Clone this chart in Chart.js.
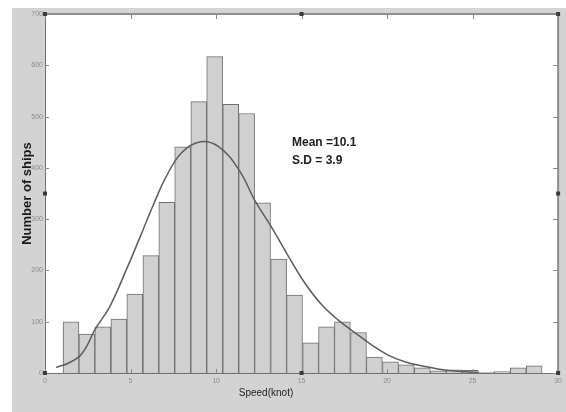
<!DOCTYPE html>
<html>
<head>
<meta charset="utf-8">
<title>Speed distribution of ships</title>
<script src="https://cdn.jsdelivr.net/npm/chart.js@4.4.1/dist/chart.umd.min.js"></script>
<style>
html,body{margin:0;padding:0;background:#fff;}
canvas{display:block;}
</style>
</head>
<body>
<canvas id="speedChart" width="566" height="412"></canvas>
<script>
// ===============================
// Data
// ===============================

// histogram bins (centre speed in knots) and ship counts
const binCenters = [1.52, 2.45, 3.38, 4.32, 5.25, 6.19, 7.12, 8.05, 8.99, 9.92,
                    10.86, 11.79, 12.72, 13.66, 14.59, 15.53, 16.46, 17.39, 18.33, 19.26,
                    20.20, 21.13, 22.06, 23.00, 23.93, 24.87, 25.80, 26.73, 27.67, 28.60];
const shipCounts = [100, 76, 90, 105, 154, 229, 333, 441, 529, 617,
                    524, 506, 332, 222, 152, 59, 90, 100, 79, 31,
                    22, 16, 10, 4, 6, 5, 2, 3, 10, 14];

// fitted normal curve
const fitSpeed = [0.64, 1.36, 2.03, 2.42, 2.91, 3.78, 4.75, 5.52, 6.3, 7.07, 8.0, 9.1,
                  10.17, 11.34, 12.31, 13.27, 14.24, 15.2, 16.18, 17.15, 18.31, 19.09,
                  20.06, 21.03, 22.0, 22.97, 23.9, 25.3];
const fitCount = [11, 19, 33, 51, 84, 129, 201, 262, 325, 382, 430, 451,
                  441, 396, 334, 283, 227, 175, 133, 103, 74, 55,
                  35, 22, 14, 8, 4, 1];

const xTicks = [0, 5, 10, 15, 20, 25, 30];
const yTicks = [0, 100, 200, 300, 400, 500, 600, 700];
const statLines = ["Mean =10.1", "S.D = 3.9"];

// ===============================
// Frame / MATLAB look
// ===============================

const matlabFrame = {
    id: "matlabFrame",
    beforeDraw(chart){
        const c = chart.ctx;
        const a = chart.chartArea;
        c.save();
        c.fillStyle = "#ffffff";
        c.fillRect(0, 0, chart.width, chart.height);
        c.fillStyle = "#d3d3d3";
        c.fillRect(12, 8, chart.width - 12, chart.height - 8);
        c.fillStyle = "#ffffff";
        c.fillRect(a.left, a.top, a.right - a.left, a.bottom - a.top);
        c.restore();
    },
    afterDraw(chart){
        const c = chart.ctx;
        const a = chart.chartArea;
        const xs = chart.scales.x;
        const ys = chart.scales.y;
        c.save();

        // box
        c.strokeStyle = "#8e8e8e";
        c.lineWidth = 2;
        c.beginPath();
        c.moveTo(a.left, a.top);
        c.lineTo(a.right, a.top);
        c.lineTo(a.right, a.bottom);
        c.stroke();
        c.strokeStyle = "#707070";
        c.lineWidth = 1;
        c.beginPath();
        c.moveTo(a.left + 0.5, a.top);
        c.lineTo(a.left + 0.5, a.bottom + 0.5);
        c.lineTo(a.right, a.bottom + 0.5);
        c.stroke();

        // inside ticks
        c.strokeStyle = "#888888";
        c.beginPath();
        xTicks.forEach(v=>{
            const px = Math.round(xs.getPixelForValue(v)) + 0.5;
            c.moveTo(px, a.top); c.lineTo(px, a.top + 5);
            c.moveTo(px, a.bottom); c.lineTo(px, a.bottom - 4);
        });
        yTicks.forEach(v=>{
            const py = Math.round(ys.getPixelForValue(v)) + 0.5;
            c.moveTo(a.left, py); c.lineTo(a.left + 4, py);
            c.moveTo(a.right, py); c.lineTo(a.right - 5, py);
        });
        c.stroke();

        // selection handles
        c.fillStyle = "#3a3a3a";
        const midX = (a.left + a.right) / 2;
        const midY = (a.top + a.bottom) / 2;
        [[a.left, a.top], [midX, a.top], [a.right, a.top], [a.right, midY],
         [a.right, a.bottom], [midX, a.bottom], [a.left, a.bottom], [a.left, midY]]
        .forEach(p=>{
            c.fillRect(p[0] - 2, p[1] - 2, 4, 4);
        });

        // statistics text
        c.fillStyle = "#1e1e1e";
        c.font = "bold 12px 'Liberation Sans', Arial, sans-serif";
        c.textBaseline = "middle";
        c.textAlign = "left";
        c.fillText(statLines[0], 292, 143);
        c.fillText(statLines[1], 292, 161);

        // x axis title
        c.font = "10px 'Liberation Sans', Arial, sans-serif";
        c.fillStyle = "#222222";
        c.textAlign = "center";
        c.fillText("Speed(knot)", 266, 393);

        c.restore();
    }
};

// ===============================
// Chart
// ===============================

const ctx = document.getElementById("speedChart");

const chart = new Chart(ctx, {
    type: "bar",
    data: {
        datasets: [{
            type: "line",
            label: "Normal fit",
            data: fitSpeed.map((s, i)=>({x: s, y: fitCount[i]})),
            borderColor: "#5c5c5c",
            borderWidth: 1.5,
            pointRadius: 0,
            fill: false,
            tension: 0.4,
            order: 0
        }, {
            label: "Number of ships",
            data: binCenters.map((s, i)=>({x: s, y: shipCounts[i]})),
            backgroundColor: "#d0d0d0",
            borderColor: "#6f6f6f",
            borderWidth: 1,
            barPercentage: 1,
            categoryPercentage: 1,
            order: 1
        }]
    },
    options: {
        responsive: false,
        animation: false,
        devicePixelRatio: 1,
        layout: {
            padding: {left: 0, top: 14, right: 5, bottom: 0}
        },
        plugins: {
            legend: {display: false},
            tooltip: {enabled: false}
        },
        scales: {
            x: {
                type: "linear",
                offset: false,
                min: 0,
                max: 30,
                grid: {display: false, drawTicks: false},
                border: {display: false},
                afterBuildTicks: s=>{ s.ticks = xTicks.map(v=>({value: v})); },
                afterFit: s=>{ s.height = 39; },
                ticks: {
                    padding: 4,
                    maxRotation: 0,
                    autoSkip: false,
                    color: "#8a8a8a",
                    font: {size: 7, family: "'Liberation Sans', Arial, sans-serif"}
                }
            },
            y: {
                min: 0,
                max: 700,
                grid: {display: false, drawTicks: false},
                border: {display: false},
                afterBuildTicks: s=>{ s.ticks = yTicks.map(v=>({value: v})); },
                afterFit: s=>{ s.width = 45; },
                ticks: {
                    padding: 2,
                    autoSkip: false,
                    color: "#8a8a8a",
                    font: {size: 7, family: "'Liberation Sans', Arial, sans-serif"}
                },
                title: {
                    display: true,
                    text: "Number of ships",
                    color: "#1a1a1a",
                    padding: {top: 20, bottom: 0},
                    font: {size: 13, weight: "bold", family: "'Liberation Sans', Arial, sans-serif"}
                }
            }
        }
    },
    plugins: [matlabFrame]
});
</script>
</body>
</html>
